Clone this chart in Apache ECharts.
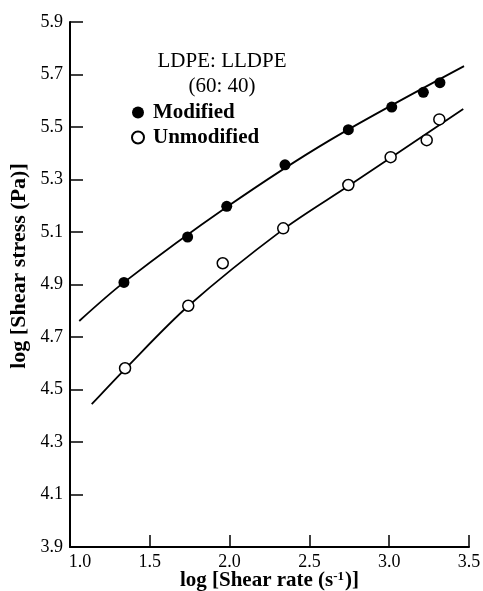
<!DOCTYPE html>
<html>
<head>
<meta charset="utf-8">
<script src="https://cdn.jsdelivr.net/npm/echarts@6/dist/echarts.min.js"></script>
<style>
  html, body { margin: 0; padding: 0; background: #fff; }
  #chart { width: 483px; height: 591px; }
</style>
</head>
<body>
<div id="chart"></div>
<script>
// Axis ticks
const xTicks = [1.0, 1.5, 2.0, 2.5, 3.0, 3.5];
const yTicks = [3.9, 4.1, 4.3, 4.5, 4.7, 4.9, 5.1, 5.3, 5.5, 5.7, 5.9];

// Measured points: log shear rate vs log shear stress
const modifiedRate = [1.338, 1.737, 1.982, 2.347, 2.744, 3.016, 3.214, 3.318];
const modifiedStress = [4.908, 5.081, 5.198, 5.356, 5.490, 5.576, 5.632, 5.669];
const unmodifiedRate = [1.345, 1.741, 1.957, 2.336, 2.744, 3.009, 3.235, 3.314];
const unmodifiedStress = [4.581, 4.819, 4.981, 5.114, 5.279, 5.385, 5.450, 5.529];

// Drawn trend curves through each data set
const modifiedFitRate = [1.058, 1.338, 1.982, 2.629, 3.469];
const modifiedFitStress = [4.761, 4.908, 5.195, 5.450, 5.732];
const unmodifiedFitRate = [1.136, 1.345, 1.741, 2.336, 2.744, 3.464];
const unmodifiedFitStress = [4.444, 4.578, 4.818, 5.110, 5.275, 5.569];

const legendTitle = 'LDPE: LLDPE\n(60: 40)';
const xTitle = 'log [Shear rate (s{sup|-1})]';
const yTitle = 'log [Shear stress (Pa)]';

const FONT = '"Liberation Serif", "DejaVu Serif", serif';
const INK = '#000';
const zip = (xs, ys) => xs.map((x, i) => [x, ys[i]]);

const chart = echarts.init(document.getElementById('chart'), null, { renderer: 'canvas' });

chart.setOption({
  animation: false,
  backgroundColor: '#fff',
  grid: { left: 70, right: 14, top: 22, bottom: 44, containLabel: false, outerBoundsMode: 'none' },
  xAxis: {
    type: 'value',
    min: xTicks[0],
    max: xTicks[xTicks.length - 1],
    interval: 0.5,
    name: xTitle,
    nameLocation: 'middle',
    nameGap: 23,
    nameMoveOverlap: false,
    nameTextStyle: {
      fontFamily: FONT, fontSize: 21, fontWeight: 'bold', color: INK,
      verticalAlign: 'top',
      rich: { sup: { fontFamily: FONT, fontSize: 13, fontWeight: 'bold', color: INK, verticalAlign: 'top', padding: [0, 1, 9, 0] } }
    },
    axisLine: { lineStyle: { color: INK, width: 2 } },
    axisTick: { inside: true, length: 12, lineStyle: { color: INK, width: 1.5 } },
    splitLine: { show: false },
    axisLabel: {
      margin: 6,
      fontFamily: FONT, fontSize: 18, color: INK,
      formatter: v => (Math.abs(v - xTicks[0]) < 1e-9 ? '{first|' + v.toFixed(1) + '}' : v.toFixed(1)),
      rich: { first: { fontFamily: FONT, fontSize: 18, color: INK, padding: [0, 0, 0, 20] } }
    }
  },
  yAxis: {
    type: 'value',
    min: yTicks[0],
    max: yTicks[yTicks.length - 1],
    axisLine: { show: true, lineStyle: { color: INK, width: 2 } },
    axisTick: { inside: true, length: 13, customValues: yTicks, lineStyle: { color: INK, width: 1.5 } },
    splitLine: { show: false },
    axisLabel: {
      margin: 7,
      customValues: yTicks,
      fontFamily: FONT, fontSize: 18, color: INK,
      formatter: v => Number(v).toFixed(1)
    }
  },
  legend: {
    data: ['Modified', 'Unmodified'],
    orient: 'vertical',
    left: 126,
    top: 97,
    icon: 'circle',
    itemWidth: 12,
    itemHeight: 12,
    itemGap: 4,
    textStyle: { fontFamily: FONT, fontSize: 21, fontWeight: 'bold', color: INK, padding: [0, 0, 0, 4] }
  },
  graphic: [
    {
      type: 'text',
      x: 222, y: 49,
      style: {
        text: legendTitle,
        font: '21px ' + FONT,
        fill: INK,
        align: 'center',
        verticalAlign: 'top',
        lineHeight: 25
      }
    },
    {
      type: 'text',
      x: 19, y: 266,
      rotation: Math.PI / 2,
      style: {
        text: yTitle,
        font: 'bold 22px ' + FONT,
        fill: INK,
        align: 'center',
        verticalAlign: 'middle'
      }
    }
  ],
  series: [
    {
      name: 'Modified fit',
      type: 'line',
      data: zip(modifiedFitRate, modifiedFitStress),
      showSymbol: false,
      smooth: 0.3,
      silent: true,
      lineStyle: { color: INK, width: 1.8 },
      z: 2
    },
    {
      name: 'Unmodified fit',
      type: 'line',
      data: zip(unmodifiedFitRate, unmodifiedFitStress),
      showSymbol: false,
      smooth: 0.3,
      silent: true,
      lineStyle: { color: INK, width: 1.8 },
      z: 2
    },
    {
      name: 'Modified',
      type: 'scatter',
      data: zip(modifiedRate, modifiedStress),
      symbol: 'circle',
      symbolSize: 11,
      itemStyle: { color: INK, opacity: 1 },
      z: 3
    },
    {
      name: 'Unmodified',
      type: 'scatter',
      data: zip(unmodifiedRate, unmodifiedStress),
      symbol: 'circle',
      symbolSize: 11,
      itemStyle: { color: '#fff', borderColor: INK, borderWidth: 1.5, opacity: 1 },
      z: 3
    }
  ]
});
</script>
</body>
</html>
